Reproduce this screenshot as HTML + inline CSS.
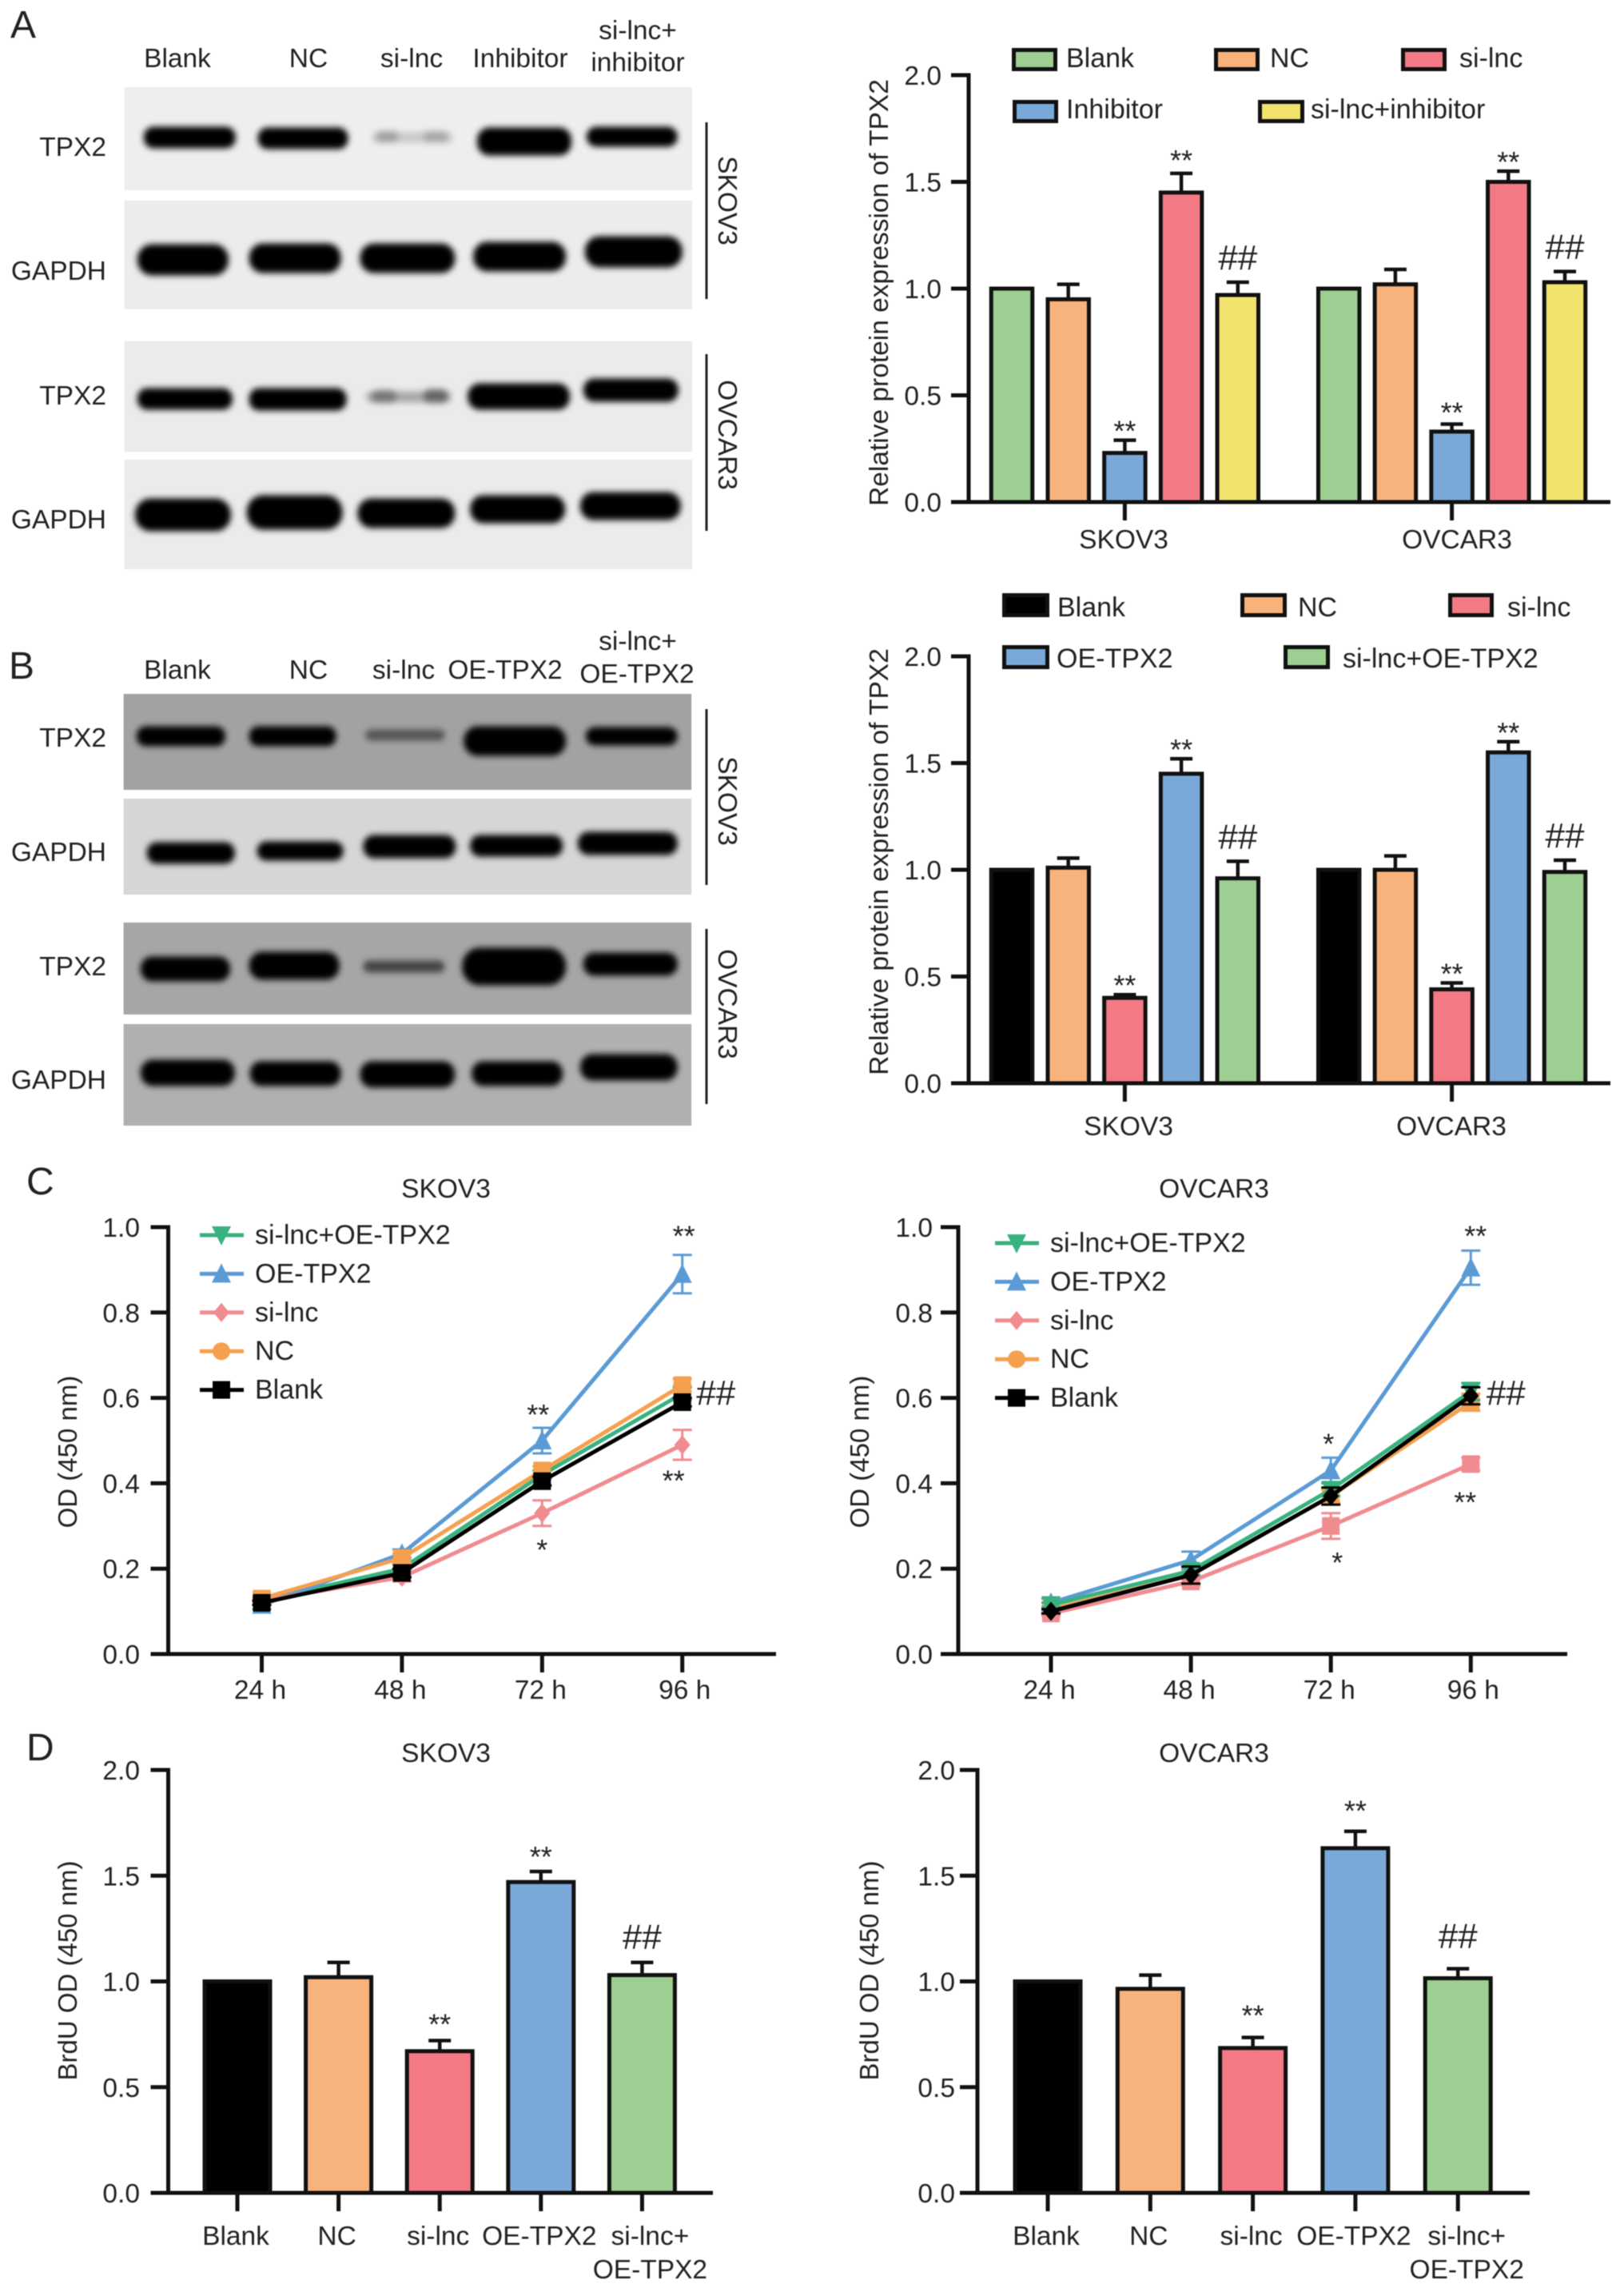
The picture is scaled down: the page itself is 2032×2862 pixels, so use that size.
<!DOCTYPE html>
<html lang="en">
<head>
<meta charset="utf-8">
<title>TPX2 western blots and proliferation charts</title>
<style>
html,body{margin:0;padding:0;background:#fff;width:2032px;height:2862px;overflow:hidden}
svg{display:block;filter:blur(0.6px)}
text{font-family:"Liberation Sans",sans-serif;font-size:33.5px;fill:#222}
.panel{font-size:48px}
</style>
</head>
<body>
<svg id="fig" xmlns="http://www.w3.org/2000/svg" width="2032" height="2862" viewBox="0 0 2032 2862">
<defs>
<filter id="band-blur" x="-20%" y="-60%" width="140%" height="220%"><feGaussianBlur stdDeviation="4"/></filter>
</defs>
<rect width="2032" height="2862" fill="#fff"/>

<!-- Panel A blots -->
<g>
<text class="panel" x="13" y="47">A</text>
<text x="222" y="84" text-anchor="middle">Blank</text>
<text x="386" y="84" text-anchor="middle">NC</text>
<text x="515" y="84" text-anchor="middle">si-lnc</text>
<text x="651" y="84" text-anchor="middle">Inhibitor</text>
<text x="798" y="49" text-anchor="middle">si-lnc+</text>
<text x="798" y="89" text-anchor="middle">inhibitor</text>
<g transform="scale(0.991 1)">
<rect x="157" y="109" width="717" height="129" fill="#eeeeee"/>
<rect x="157" y="251" width="717" height="136" fill="#ececec"/>
<rect x="157" y="427" width="717" height="138" fill="#ebebeb"/>
<rect x="157" y="575" width="717" height="137" fill="#ebebeb"/>
<g filter="url(#band-blur)" fill="#030303" stroke="#030303" stroke-width="5">
<rect x="184" y="161" width="111" height="22" rx="10"/>
<rect x="328" y="162" width="109" height="22" rx="10"/>
<rect x="472" y="168" width="97" height="8" rx="4" fill="#c8c8c8" stroke="#c8c8c8"/>
<rect x="476" y="165" width="26" height="12" rx="6" fill="#a0a0a0" stroke="#a0a0a0" stroke-width="2"/>
<rect x="535" y="165" width="30" height="12" rx="6" fill="#a8a8a8" stroke="#a8a8a8" stroke-width="2"/>
<rect x="605" y="162" width="114" height="30" rx="13"/>
<rect x="743" y="161" width="110" height="20" rx="10"/>
<rect x="176" y="308" width="110" height="34" rx="16"/>
<rect x="317" y="307" width="111" height="32" rx="15"/>
<rect x="457" y="307" width="115" height="32" rx="15"/>
<rect x="600" y="305" width="112" height="32" rx="15"/>
<rect x="741" y="298" width="118" height="34" rx="16"/>
<rect x="176" y="488" width="115" height="22" rx="10"/>
<rect x="317" y="488" width="118" height="23" rx="10"/>
<rect x="465" y="492" width="102" height="9" rx="4" fill="#a8a8a8" stroke="#a8a8a8"/>
<rect x="470" y="489" width="30" height="14" rx="7" fill="#777" stroke="#777" stroke-width="2"/>
<rect x="535" y="488" width="30" height="15" rx="7" fill="#666" stroke="#666" stroke-width="2"/>
<rect x="593" y="482" width="124" height="28" rx="13"/>
<rect x="739" y="476" width="115" height="24" rx="11"/>
<rect x="173" y="626" width="116" height="36" rx="17"/>
<rect x="314" y="622" width="116" height="38" rx="18"/>
<rect x="454" y="626" width="118" height="32" rx="15"/>
<rect x="596" y="622" width="115" height="30" rx="14"/>
<rect x="735" y="618" width="122" height="30" rx="14"/>
</g>
</g>
<text x="133" y="195" text-anchor="end">TPX2</text>
<text x="133" y="350" text-anchor="end">GAPDH</text>
<text x="133" y="506" text-anchor="end">TPX2</text>
<text x="133" y="661" text-anchor="end">GAPDH</text>
<line x1="884" y1="153" x2="884" y2="374" stroke="#222" stroke-width="3"/>
<line x1="884" y1="443" x2="884" y2="664" stroke="#222" stroke-width="3"/>
<text text-anchor="middle" transform="translate(899 251) rotate(90)">SKOV3</text>
<text text-anchor="middle" transform="translate(899 544) rotate(90)">OVCAR3</text>
</g>

<!-- Panel B blots -->
<g>
<text class="panel" x="11" y="849">B</text>
<text x="222" y="849" text-anchor="middle">Blank</text>
<text x="386" y="849" text-anchor="middle">NC</text>
<text x="505" y="849" text-anchor="middle">si-lnc</text>
<text x="632" y="849" text-anchor="middle">OE-TPX2</text>
<text x="798" y="813" text-anchor="middle">si-lnc+</text>
<text x="797" y="854" text-anchor="middle">OE-TPX2</text>
<g transform="scale(0.991 1)">
<rect x="156" y="868" width="717" height="120" fill="#a2a2a2"/>
<rect x="156" y="999" width="717" height="120" fill="#d6d6d6"/>
<rect x="156" y="1154" width="717" height="115" fill="#a6a6a6"/>
<rect x="156" y="1281" width="717" height="127" fill="#b0b0b0"/>
<g filter="url(#band-blur)" fill="#030303" stroke="#030303" stroke-width="5">
<rect x="175" y="911" width="107" height="20" rx="9"/>
<rect x="317" y="911" width="105" height="20" rx="9"/>
<rect x="464" y="915" width="95" height="9" rx="4" fill="#555" stroke="#555"/>
<rect x="588" y="911" width="124" height="32" rx="15"/>
<rect x="742" y="912" width="111" height="18" rx="9"/>
<rect x="188" y="1056" width="106" height="22" rx="10"/>
<rect x="327" y="1055" width="104" height="19" rx="9"/>
<rect x="461" y="1047" width="112" height="24" rx="11"/>
<rect x="596" y="1047" width="112" height="22" rx="10"/>
<rect x="732" y="1043" width="121" height="24" rx="11"/>
<rect x="180" y="1199" width="108" height="26" rx="12"/>
<rect x="317" y="1193" width="109" height="30" rx="14"/>
<rect x="461" y="1204" width="98" height="10" rx="5" fill="#444" stroke="#444"/>
<rect x="586" y="1188" width="126" height="42" rx="20"/>
<rect x="739" y="1194" width="114" height="24" rx="11"/>
<rect x="180" y="1328" width="114" height="28" rx="13"/>
<rect x="318" y="1330" width="110" height="26" rx="12"/>
<rect x="457" y="1330" width="115" height="28" rx="13"/>
<rect x="598" y="1330" width="110" height="26" rx="12"/>
<rect x="735" y="1321" width="118" height="28" rx="13"/>
</g>
</g>
<text x="133" y="934" text-anchor="end">TPX2</text>
<text x="133" y="1077" text-anchor="end">GAPDH</text>
<text x="133" y="1220" text-anchor="end">TPX2</text>
<text x="133" y="1362" text-anchor="end">GAPDH</text>
<line x1="884" y1="887" x2="884" y2="1107" stroke="#222" stroke-width="3"/>
<line x1="884" y1="1162" x2="884" y2="1381" stroke="#222" stroke-width="3"/>
<text text-anchor="middle" transform="translate(899 1002) rotate(90)">SKOV3</text>
<text text-anchor="middle" transform="translate(899 1256) rotate(90)">OVCAR3</text>
</g>
<text class="panel" x="33" y="1494">C</text>
<text class="panel" x="33" y="2202">D</text>
<g id="charts"></g>
</svg>

<script>
// ---- Data: panel A bars ----
const groupLabels = ['SKOV3', 'OVCAR3'];
const aSeries = ['Blank', 'NC', 'Inhibitor', 'si-lnc', 'si-lnc+inhibitor'];
const aSkov3Values = [1.0, 0.95, 0.23, 1.45, 0.97];
const aSkov3Errors = [0, 0.07, 0.06, 0.09, 0.06];
const aOvcar3Values = [1.0, 1.02, 0.33, 1.50, 1.03];
const aOvcar3Errors = [0, 0.07, 0.035, 0.05, 0.05];
const aSkov3Marks = ['', '', '**', '**', '##'];
const aOvcar3Marks = ['', '', '**', '**', '##'];
// ---- Data: panel B bars ----
const bSeries = ['Blank', 'NC', 'si-lnc', 'OE-TPX2', 'si-lnc+OE-TPX2'];
const bSkov3Values = [1.0, 1.01, 0.40, 1.45, 0.96];
const bSkov3Errors = [0, 0.045, 0.015, 0.07, 0.08];
const bOvcar3Values = [1.0, 1.0, 0.44, 1.55, 0.99];
const bOvcar3Errors = [0, 0.065, 0.03, 0.05, 0.055];
const bSkov3Marks = ['', '', '**', '**', '##'];
const bOvcar3Marks = ['', '', '**', '**', '##'];
const barTicks = [0, 0.5, 1, 1.5, 2];
// ---- Data: panel C lines ----
const timeLabels = ['24 h', '48 h', '72 h', '96 h'];
const lineTicks = [0, 0.2, 0.4, 0.6, 0.8, 1];
const lineSeriesNames = ['si-lnc+OE-TPX2', 'OE-TPX2', 'si-lnc', 'NC', 'Blank'];
const cSkovCombo = [0.125, 0.20, 0.42, 0.61];
const cSkovCombErr = [0.005, 0.01, 0.01, 0.015];
const cSkovOe = [0.115, 0.235, 0.50, 0.89];
const cSkovOeErr = [0.01, 0.01, 0.03, 0.045];
const cSkovSi = [0.125, 0.18, 0.33, 0.49];
const cSkovSiErr = [0.005, 0.01, 0.03, 0.035];
const cSkovNc = [0.13, 0.225, 0.43, 0.63];
const cSkovNcErr = [0.005, 0.01, 0.01, 0.015];
const cSkovBlank = [0.12, 0.19, 0.405, 0.59];
const cSkovBlankErr = [0.005, 0.01, 0.01, 0.01];
const cOvCombo = [0.115, 0.195, 0.385, 0.615];
const cOvCombErr = [0.005, 0.01, 0.015, 0.02];
const cOvOe = [0.12, 0.22, 0.43, 0.905];
const cOvOeErr = [0.01, 0.02, 0.03, 0.04];
const cOvSi = [0.095, 0.17, 0.30, 0.445];
const cOvSiErr = [0.005, 0.01, 0.03, 0.015];
const cOvNc = [0.105, 0.185, 0.37, 0.59];
const cOvNcErr = [0.005, 0.01, 0.015, 0.02];
const cOvBlank = [0.10, 0.185, 0.37, 0.605];
const cOvBlankErr = [0.005, 0.02, 0.02, 0.02];
// ---- Data: panel D bars ----
const dCategories = ['Blank', 'NC', 'si-lnc', 'OE-TPX2', 'si-lnc+|OE-TPX2'];
const dSkovValues = [1.0, 1.02, 0.67, 1.47, 1.03];
const dSkovErrors = [0, 0.07, 0.05, 0.05, 0.06];
const dOvValues = [1.0, 0.965, 0.685, 1.63, 1.015];
const dOvErrors = [0, 0.065, 0.05, 0.08, 0.045];
const dMarks = ['', '', '**', '**', '##'];

const GREEN = '#9ccf91', ORANGE = '#f8b27c', RED = '#f37a84', BLUE = '#7aa9d9', YELLOW = '#f2e36f';
const root = document.getElementById('charts');
const NS = 'http://www.w3.org/2000/svg';

function mark(parent, tag, attrs, name) {
  const e = document.createElementNS(NS, tag);
  for (const k in attrs) e.setAttribute(k, attrs[k]);
  
  
  parent.appendChild(e);
  return e;
}
function label(parent, str, x, y, anchor, name, extra) {
  const a = Object.assign({x: x, y: y, 'text-anchor': anchor}, extra || {});
  const t = mark(parent, 'text', a, name);
  t.textContent = str;
  return t;
}
function line(parent, x1, y1, x2, y2, color, w, name) {
  return mark(parent, 'line', {x1: x1, y1: y1, x2: x2, y2: y2, stroke: color, 'stroke-width': w}, name);
}
function stars(parent, str, x, yCenter) {
  return label(parent, str, x, yCenter + 21, 'middle', 'significance-stars', {style: 'font-size:36px'});
}
function hashes(parent, x, yBase) {
  return label(parent, '##', x, yBase, 'middle', 'significance-hash', {style: 'font-size:44px'});
}
function yAxis(g, L, ticks, fmt) {
  const scale = v => L.y0 + (L.yTop - L.y0) * v / L.max;
  line(g, L.ax, scale(L.max) - 2.5, L.ax, L.y0 + 2.5, '#111', 5, 'y-axis-line');
  ticks.forEach(t => {
    line(g, L.ax - 22, scale(t), L.ax, scale(t), '#111', 5, 'y-axis-tick');
    label(g, fmt(t), L.labelX, scale(t) + 12, 'end', 'y-axis-tick-label');
  });
  line(g, L.ax - 22, L.y0, L.xEnd, L.y0, '#111', 5, 'x-axis-line');
  return scale;
}
function yTitle(g, str, cx, cy, size) {
  const extra = {transform: 'translate(' + (cx + 12) + ' ' + cy + ') rotate(-90)', style: 'font-size:' + size + 'px'};
  label(g, str, 0, 0, 'middle', 'y-axis-title', extra);
}
function bar(g, cx, w, v, err, color, scale, y0, name) {
  mark(g, 'rect', {x: cx - w / 2, y: scale(v), width: w, height: y0 - scale(v), fill: color, stroke: '#111', 'stroke-width': 5}, name);
  if (err > 0) {
    line(g, cx, scale(v), cx, scale(v + err), '#111', 4.5, 'error-bar-stem');
    line(g, cx - 14, scale(v + err), cx + 14, scale(v + err), '#111', 4.5, 'error-bar-cap');
  }
}
function annotate(g, str, cx, topY) {
  if (str === '##') hashes(g, cx, topY - 16);
  else if (str) stars(g, str, cx, topY - 20);
}
function legendSwatch(g, x, y, w, h, color, text, tx, tb) {
  mark(g, 'rect', {x: x + 2.5, y: y + 2.5, width: w - 5, height: h - 5, fill: color, stroke: '#111', 'stroke-width': 5}, 'legend-swatch');
  label(g, text, tx, tb, 'start', 'legend-entry', {style: 'font-size:34px'});
}

function groupedBars(name, L, seriesNames, colors, groups) {
  const g = mark(root, 'g', {}, name);
  const scale = yAxis(g, L, barTicks, t => t.toFixed(1));
  yTitle(g, 'Relative protein expression of TPX2', L.titleX, L.titleY, 33.5);
  groups.forEach((grp, gi) => {
    const start = L.x0 + gi * L.groupStep;
    grp.values.forEach((v, i) => {
      const cx = start + i * L.step;
      bar(g, cx, 51.5, v, grp.errors[i], colors[i], scale, L.y0, 'bar-' + groupLabels[gi].toLowerCase() + '-' + seriesNames[i].toLowerCase().replace(/[^a-z0-9]+/g, '-'));
      annotate(g, grp.marks[i], cx, scale(v + grp.errors[i]) - (grp.lift ? grp.lift[i] : 0));
    });
    const tickX = start + 2 * L.step;
    line(g, tickX, L.y0, tickX, L.y0 + 23, '#111', 5, 'x-axis-tick');
    label(g, groupLabels[gi], L.groupLabelX[gi], L.groupLabelY, 'middle', 'x-axis-tick-label');
  });
  return g;
}

// Panel A
const gA = groupedBars('chart-a-tpx2-expression', {ax: 1212, y0: 628, yTop: 94, max: 2, xEnd: 2015, labelX: 1178, titleX: 1099, titleY: 366, x0: 1266, step: 70.7, groupStep: 409.2, groupLabelX: [1406, 1823], groupLabelY: 686},
  aSeries, [GREEN, ORANGE, BLUE, RED, YELLOW],
  [{values: aSkov3Values, errors: aSkov3Errors, marks: aSkov3Marks, lift: [0, 0, 0, 5, 0]}, {values: aOvcar3Values, errors: aOvcar3Errors, marks: aOvcar3Marks, lift: [0, 0, 3, 0, 0]}]);
legendSwatch(gA, 1266, 60, 57, 29, GREEN, 'Blank', 1334, 84);
legendSwatch(gA, 1519, 60, 57, 29, ORANGE, 'NC', 1589, 84);
legendSwatch(gA, 1753, 60, 57, 29, RED, 'si-lnc', 1826, 84);
legendSwatch(gA, 1267, 125, 57, 29, BLUE, 'Inhibitor', 1334, 148);
legendSwatch(gA, 1574, 125, 58, 29, YELLOW, 'si-lnc+inhibitor', 1640, 148);

// Panel B
const gB = groupedBars('chart-b-tpx2-expression', {ax: 1212, y0: 1355, yTop: 821, max: 2, xEnd: 2015, labelX: 1178, titleX: 1099, titleY: 1078, x0: 1266, step: 70.7, groupStep: 409.2, groupLabelX: [1412, 1816], groupLabelY: 1420},
  bSeries, ['#000', ORANGE, RED, BLUE, GREEN],
  [{values: bSkov3Values, errors: bSkov3Errors, marks: bSkov3Marks}, {values: bOvcar3Values, errors: bOvcar3Errors, marks: bOvcar3Marks}]);
legendSwatch(gB, 1254, 742, 59, 30, '#000', 'Blank', 1323, 771);
legendSwatch(gB, 1552, 742, 58, 30, ORANGE, 'NC', 1624, 771);
legendSwatch(gB, 1812, 742, 57, 30, RED, 'si-lnc', 1886, 771);
legendSwatch(gB, 1254, 807, 59, 30, BLUE, 'OE-TPX2', 1322, 835);
legendSwatch(gB, 1606, 807, 58, 30, GREEN, 'si-lnc+OE-TPX2', 1680, 835);

// Panel C
function markerShape(g, type, x, y, color, name) {
  const r = 11;
  if (type === 'square') return mark(g, 'rect', {x: x - r, y: y - r, width: 2 * r, height: 2 * r, fill: color}, name);
  if (type === 'circle') return mark(g, 'circle', {cx: x, cy: y, r: r, fill: color}, name);
  let pts;
  if (type === 'up') pts = [[x, y - r - 2], [x + r + 1, y + r], [x - r - 1, y + r]];
  else if (type === 'down') pts = [[x, y + r + 2], [x + r + 1, y - r], [x - r - 1, y - r]];
  else pts = [[x, y - r - 1], [x + r - 1, y], [x, y + r + 1], [x - r + 1, y]];
  return mark(g, 'polygon', {points: pts.map(p => p.join(',')).join(' '), fill: color}, name);
}
function lineChart(name, title, L, series, legendMarkers, notes) {
  const g = mark(root, 'g', {}, name);
  label(g, title, L.titleCx, 1498, 'middle', 'chart-title');
  const scale = yAxis(g, L, lineTicks, t => t.toFixed(1));
  yTitle(g, 'OD (450 nm)', L.yTitleX, 1816, 33);
  const xPos = i => L.xFirst + i * L.xStep;
  timeLabels.forEach((t, i) => {
    line(g, xPos(i), L.y0, xPos(i), L.y0 + 23, '#111', 5, 'x-axis-tick');
    label(g, t, xPos(i) - 2 + (i === 3 ? 5 : 0), 2125, 'middle', 'x-axis-tick-label');
  });
  series.forEach(s => {
    const slug = s.name.toLowerCase().replace(/[^a-z0-9]+/g, '-');
    const sg = mark(g, 'g', {}, 'series-' + slug);
    mark(sg, 'polyline', {points: s.values.map((v, i) => xPos(i) + ',' + scale(v)).join(' '), fill: 'none', stroke: s.color, 'stroke-width': 5}, 'series-line');
    s.values.forEach((v, i) => {
      const e = s.errors[i];
      line(sg, xPos(i), scale(v - e), xPos(i), scale(v + e), s.color, 3, 'error-bar-stem');
      line(sg, xPos(i) - 12, scale(v + e), xPos(i) + 12, scale(v + e), s.color, 3, 'error-bar-cap');
      line(sg, xPos(i) - 12, scale(v - e), xPos(i) + 12, scale(v - e), s.color, 3, 'error-bar-cap');
      markerShape(sg, s.marker, xPos(i), scale(v), s.color, 'point');
    });
  });
  lineSeriesNames.forEach((n, i) => {
    const s = series.find(q => q.name === n);
    const ly = L.legendY + i * L.legendStep;
    line(g, L.legendX, ly, L.legendX + 55, ly, s.color, 5, 'legend-line');
    markerShape(g, legendMarkers[i], L.legendX + 27, ly, s.color, 'legend-marker');
    label(g, n, L.legendX + 69, ly + 11, 'start', 'legend-entry', {style: 'font-size:34px'});
  });
  notes.forEach(n => {
    const v = n.series.values[n.idx];
    const x = xPos(n.idx) + n.dx;
    const y = scale(v) + n.dy;
    if (n.text === '##') hashes(g, x, y); else stars(g, n.text, x, y);
  });
}
const sC1 = [
  {name: 'si-lnc+OE-TPX2', color: '#38b27e', marker: 'down', values: cSkovCombo, errors: cSkovCombErr},
  {name: 'OE-TPX2', color: '#5b9bd5', marker: 'up', values: cSkovOe, errors: cSkovOeErr},
  {name: 'si-lnc', color: '#f08b8f', marker: 'diamond', values: cSkovSi, errors: cSkovSiErr},
  {name: 'NC', color: '#f5a04f', marker: 'square', values: cSkovNc, errors: cSkovNcErr},
  {name: 'Blank', color: '#000', marker: 'square', values: cSkovBlank, errors: cSkovBlankErr}
];
lineChart('chart-c-skov3', 'SKOV3',
  {ax: 210.5, y0: 2069, yTop: 1535, max: 1, xEnd: 971, labelX: 175, yTitleX: 84, titleCx: 558, xFirst: 327.5, xStep: 175.4, legendX: 250, legendY: 1545, legendStep: 48.4},
  sC1, ['down', 'up', 'diamond', 'circle', 'square'],
  [{series: sC1[1], idx: 3, text: '**', dx: 2, dy: -56},
   {series: sC1[1], idx: 2, text: '**', dx: -5, dy: -41},
   {series: sC1[2], idx: 2, text: '*', dx: 0, dy: 37},
   {series: sC1[2], idx: 3, text: '**', dx: -11, dy: 36},
   {series: sC1[4], idx: 3, text: '##', dx: 42, dy: 3}]);
const sC2 = [
  {name: 'NC', color: '#f5a04f', marker: 'square', values: cOvNc, errors: cOvNcErr},
  {name: 'si-lnc', color: '#f08b8f', marker: 'square', values: cOvSi, errors: cOvSiErr},
  {name: 'OE-TPX2', color: '#5b9bd5', marker: 'up', values: cOvOe, errors: cOvOeErr},
  {name: 'si-lnc+OE-TPX2', color: '#38b27e', marker: 'down', values: cOvCombo, errors: cOvCombErr},
  {name: 'Blank', color: '#000', marker: 'diamond', values: cOvBlank, errors: cOvBlankErr}
];
lineChart('chart-c-ovcar3', 'OVCAR3',
  {ax: 1199, y0: 2069, yTop: 1535, max: 1, xEnd: 1961, labelX: 1167, yTitleX: 1075, titleCx: 1519, xFirst: 1315, xStep: 175.1, legendX: 1245, legendY: 1555, legendStep: 48.4},
  sC2, ['down', 'up', 'diamond', 'circle', 'square'],
  [{series: sC2[2], idx: 3, text: '**', dx: 6, dy: -48},
   {series: sC2[2], idx: 2, text: '*', dx: -3, dy: -42},
   {series: sC2[1], idx: 2, text: '*', dx: 8, dy: 37},
   {series: sC2[1], idx: 3, text: '**', dx: -7, dy: 39},
   {series: sC2[4], idx: 3, text: '##', dx: 44, dy: 11}]);

// Panel D
function simpleBars(name, title, L, values, errors) {
  const g = mark(root, 'g', {}, name);
  label(g, title, L.titleCx, 2204, 'middle', 'chart-title');
  const scale = yAxis(g, L, barTicks, t => t.toFixed(1));
  yTitle(g, 'BrdU OD (450 nm)', L.yTitleX, 2465, 33);
  const colors = ['#000', ORANGE, RED, BLUE, GREEN];
  values.forEach((v, i) => {
    const cx = L.x0 + i * L.step;
    const slug = dCategories[i].toLowerCase().replace(/[^a-z0-9]+/g, '-');
    bar(g, cx, 82, v, errors[i], colors[i], scale, L.y0, 'bar-' + slug);
    annotate(g, dMarks[i], cx, scale(v + errors[i]) - L.lift[i]);
    line(g, cx, L.y0, cx, L.y0 + 23, '#111', 5, 'x-axis-tick');
    const parts = dCategories[i].split('|');
    const lx = cx + (parts.length > 1 ? L.lastDx : -2);
    label(g, parts[0], lx, 2808, 'middle', 'x-axis-tick-label');
    if (parts[1]) label(g, parts[1], lx, 2850, 'middle', 'x-axis-tick-label');
  });
}
simpleBars('chart-d-skov3', 'SKOV3', {ax: 210.5, y0: 2743, yTop: 2214, max: 2, xEnd: 892, labelX: 175, yTitleX: 84, titleCx: 558, x0: 297, step: 126.6, lastDx: 10, lift: [0, 0, 9, 7, 1]}, dSkovValues, dSkovErrors);
simpleBars('chart-d-ovcar3', 'OVCAR3', {ax: 1223, y0: 2743, yTop: 2214, max: 2, xEnd: 1914, labelX: 1195, yTitleX: 1087, titleCx: 1519, x0: 1311, step: 128.3, lastDx: 11, lift: [0, 0, 16, 14, 10]}, dOvValues, dOvErrors);
</script>
</body>
</html>
